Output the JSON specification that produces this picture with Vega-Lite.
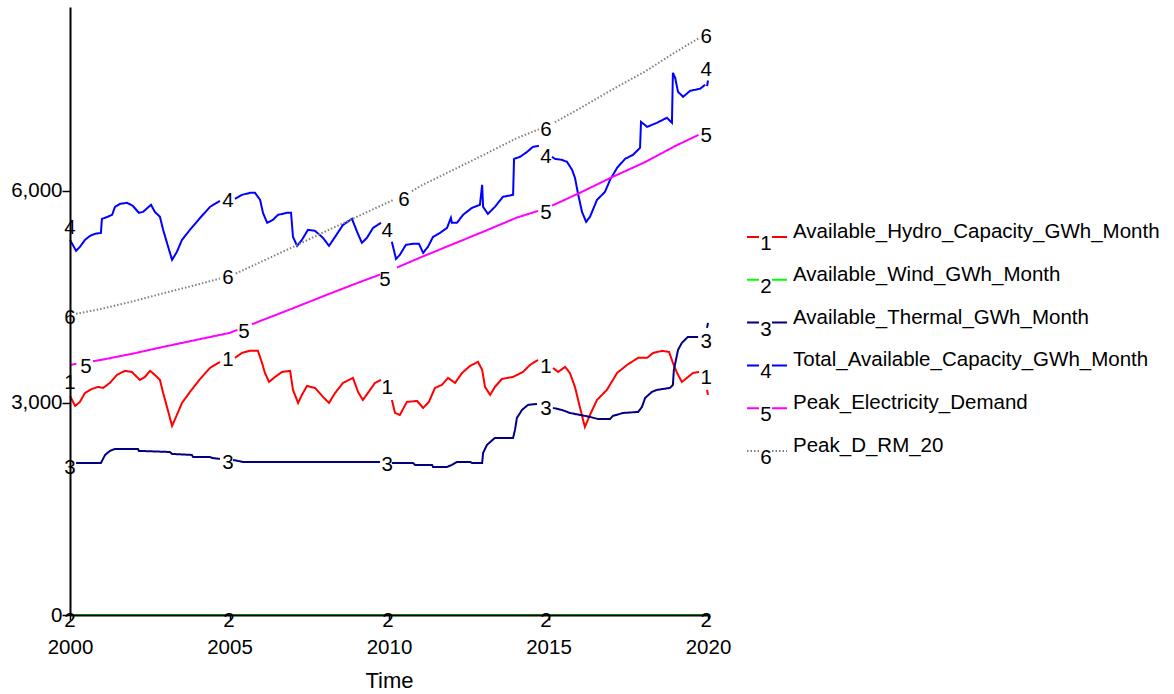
{
  "$schema": "https://vega.github.io/schema/vega-lite/v6.json",
  "autosize": {"type": "none"},
  "padding": {"left": 70, "top": 7, "right": 466, "bottom": 79},
  "background": "white",
  "width": 638,
  "height": 608,
  "config": {
    "view": {"stroke": null},
    "font": "Liberation Sans",
    "text": {"font": "Liberation Sans"}
  },
  "datasets": {
    "lines": [
      {"series": "Available_Hydro_Capacity_GWh_Month", "seg": 1, "year": 2000.0, "value": 3100},
      {"series": "Available_Hydro_Capacity_GWh_Month", "seg": 1, "year": 2000.16, "value": 2957},
      {"series": "Available_Hydro_Capacity_GWh_Month", "seg": 1, "year": 2000.31, "value": 3014},
      {"series": "Available_Hydro_Capacity_GWh_Month", "seg": 1, "year": 2000.47, "value": 3141},
      {"series": "Available_Hydro_Capacity_GWh_Month", "seg": 1, "year": 2000.69, "value": 3198},
      {"series": "Available_Hydro_Capacity_GWh_Month", "seg": 1, "year": 2000.88, "value": 3226},
      {"series": "Available_Hydro_Capacity_GWh_Month", "seg": 1, "year": 2001.04, "value": 3212},
      {"series": "Available_Hydro_Capacity_GWh_Month", "seg": 1, "year": 2001.25, "value": 3283},
      {"series": "Available_Hydro_Capacity_GWh_Month", "seg": 1, "year": 2001.47, "value": 3396},
      {"series": "Available_Hydro_Capacity_GWh_Month", "seg": 1, "year": 2001.72, "value": 3453},
      {"series": "Available_Hydro_Capacity_GWh_Month", "seg": 1, "year": 2001.94, "value": 3438},
      {"series": "Available_Hydro_Capacity_GWh_Month", "seg": 1, "year": 2002.19, "value": 3325},
      {"series": "Available_Hydro_Capacity_GWh_Month", "seg": 1, "year": 2002.35, "value": 3368},
      {"series": "Available_Hydro_Capacity_GWh_Month", "seg": 1, "year": 2002.51, "value": 3453},
      {"series": "Available_Hydro_Capacity_GWh_Month", "seg": 1, "year": 2002.66, "value": 3396},
      {"series": "Available_Hydro_Capacity_GWh_Month", "seg": 1, "year": 2002.82, "value": 3325},
      {"series": "Available_Hydro_Capacity_GWh_Month", "seg": 1, "year": 2002.92, "value": 3141},
      {"series": "Available_Hydro_Capacity_GWh_Month", "seg": 1, "year": 2003.04, "value": 2943},
      {"series": "Available_Hydro_Capacity_GWh_Month", "seg": 1, "year": 2003.2, "value": 2674},
      {"series": "Available_Hydro_Capacity_GWh_Month", "seg": 1, "year": 2003.35, "value": 2830},
      {"series": "Available_Hydro_Capacity_GWh_Month", "seg": 1, "year": 2003.51, "value": 3000},
      {"series": "Available_Hydro_Capacity_GWh_Month", "seg": 1, "year": 2003.76, "value": 3155},
      {"series": "Available_Hydro_Capacity_GWh_Month", "seg": 1, "year": 2004.08, "value": 3339},
      {"series": "Available_Hydro_Capacity_GWh_Month", "seg": 1, "year": 2004.39, "value": 3495},
      {"series": "Available_Hydro_Capacity_GWh_Month", "seg": 1, "year": 2004.7, "value": 3580},
      {"series": "Available_Hydro_Capacity_GWh_Month", "seg": 2, "year": 2005.17, "value": 3637},
      {"series": "Available_Hydro_Capacity_GWh_Month", "seg": 2, "year": 2005.39, "value": 3707},
      {"series": "Available_Hydro_Capacity_GWh_Month", "seg": 2, "year": 2005.64, "value": 3736},
      {"series": "Available_Hydro_Capacity_GWh_Month", "seg": 2, "year": 2005.89, "value": 3736},
      {"series": "Available_Hydro_Capacity_GWh_Month", "seg": 2, "year": 2006.02, "value": 3566},
      {"series": "Available_Hydro_Capacity_GWh_Month", "seg": 2, "year": 2006.11, "value": 3424},
      {"series": "Available_Hydro_Capacity_GWh_Month", "seg": 2, "year": 2006.24, "value": 3297},
      {"series": "Available_Hydro_Capacity_GWh_Month", "seg": 2, "year": 2006.43, "value": 3368},
      {"series": "Available_Hydro_Capacity_GWh_Month", "seg": 2, "year": 2006.65, "value": 3438},
      {"series": "Available_Hydro_Capacity_GWh_Month", "seg": 2, "year": 2006.9, "value": 3453},
      {"series": "Available_Hydro_Capacity_GWh_Month", "seg": 2, "year": 2006.99, "value": 3184},
      {"series": "Available_Hydro_Capacity_GWh_Month", "seg": 2, "year": 2007.15, "value": 3000},
      {"series": "Available_Hydro_Capacity_GWh_Month", "seg": 2, "year": 2007.27, "value": 3113},
      {"series": "Available_Hydro_Capacity_GWh_Month", "seg": 2, "year": 2007.43, "value": 3240},
      {"series": "Available_Hydro_Capacity_GWh_Month", "seg": 2, "year": 2007.68, "value": 3212},
      {"series": "Available_Hydro_Capacity_GWh_Month", "seg": 2, "year": 2007.93, "value": 3085},
      {"series": "Available_Hydro_Capacity_GWh_Month", "seg": 2, "year": 2008.12, "value": 3000},
      {"series": "Available_Hydro_Capacity_GWh_Month", "seg": 2, "year": 2008.31, "value": 3141},
      {"series": "Available_Hydro_Capacity_GWh_Month", "seg": 2, "year": 2008.56, "value": 3283},
      {"series": "Available_Hydro_Capacity_GWh_Month", "seg": 2, "year": 2008.87, "value": 3354},
      {"series": "Available_Hydro_Capacity_GWh_Month", "seg": 2, "year": 2009.03, "value": 3155},
      {"series": "Available_Hydro_Capacity_GWh_Month", "seg": 2, "year": 2009.18, "value": 3042},
      {"series": "Available_Hydro_Capacity_GWh_Month", "seg": 2, "year": 2009.34, "value": 3141},
      {"series": "Available_Hydro_Capacity_GWh_Month", "seg": 2, "year": 2009.56, "value": 3283},
      {"series": "Available_Hydro_Capacity_GWh_Month", "seg": 2, "year": 2009.75, "value": 3325},
      {"series": "Available_Hydro_Capacity_GWh_Month", "seg": 3, "year": 2010.09, "value": 3042},
      {"series": "Available_Hydro_Capacity_GWh_Month", "seg": 3, "year": 2010.19, "value": 2858},
      {"series": "Available_Hydro_Capacity_GWh_Month", "seg": 3, "year": 2010.34, "value": 2830},
      {"series": "Available_Hydro_Capacity_GWh_Month", "seg": 3, "year": 2010.56, "value": 3014},
      {"series": "Available_Hydro_Capacity_GWh_Month", "seg": 3, "year": 2010.88, "value": 3028},
      {"series": "Available_Hydro_Capacity_GWh_Month", "seg": 3, "year": 2011.07, "value": 2929},
      {"series": "Available_Hydro_Capacity_GWh_Month", "seg": 3, "year": 2011.25, "value": 3014},
      {"series": "Available_Hydro_Capacity_GWh_Month", "seg": 3, "year": 2011.44, "value": 3212},
      {"series": "Available_Hydro_Capacity_GWh_Month", "seg": 3, "year": 2011.66, "value": 3255},
      {"series": "Available_Hydro_Capacity_GWh_Month", "seg": 3, "year": 2011.85, "value": 3354},
      {"series": "Available_Hydro_Capacity_GWh_Month", "seg": 3, "year": 2012.07, "value": 3283},
      {"series": "Available_Hydro_Capacity_GWh_Month", "seg": 3, "year": 2012.29, "value": 3424},
      {"series": "Available_Hydro_Capacity_GWh_Month", "seg": 3, "year": 2012.54, "value": 3523},
      {"series": "Available_Hydro_Capacity_GWh_Month", "seg": 3, "year": 2012.79, "value": 3580},
      {"series": "Available_Hydro_Capacity_GWh_Month", "seg": 3, "year": 2012.92, "value": 3467},
      {"series": "Available_Hydro_Capacity_GWh_Month", "seg": 3, "year": 2013.01, "value": 3226},
      {"series": "Available_Hydro_Capacity_GWh_Month", "seg": 3, "year": 2013.17, "value": 3113},
      {"series": "Available_Hydro_Capacity_GWh_Month", "seg": 3, "year": 2013.32, "value": 3226},
      {"series": "Available_Hydro_Capacity_GWh_Month", "seg": 3, "year": 2013.54, "value": 3339},
      {"series": "Available_Hydro_Capacity_GWh_Month", "seg": 3, "year": 2013.89, "value": 3368},
      {"series": "Available_Hydro_Capacity_GWh_Month", "seg": 3, "year": 2014.2, "value": 3438},
      {"series": "Available_Hydro_Capacity_GWh_Month", "seg": 3, "year": 2014.42, "value": 3537},
      {"series": "Available_Hydro_Capacity_GWh_Month", "seg": 3, "year": 2014.67, "value": 3608},
      {"series": "Available_Hydro_Capacity_GWh_Month", "seg": 4, "year": 2015.14, "value": 3495},
      {"series": "Available_Hydro_Capacity_GWh_Month", "seg": 4, "year": 2015.3, "value": 3438},
      {"series": "Available_Hydro_Capacity_GWh_Month", "seg": 4, "year": 2015.52, "value": 3509},
      {"series": "Available_Hydro_Capacity_GWh_Month", "seg": 4, "year": 2015.67, "value": 3424},
      {"series": "Available_Hydro_Capacity_GWh_Month", "seg": 4, "year": 2015.83, "value": 3226},
      {"series": "Available_Hydro_Capacity_GWh_Month", "seg": 4, "year": 2015.99, "value": 2929},
      {"series": "Available_Hydro_Capacity_GWh_Month", "seg": 4, "year": 2016.14, "value": 2660},
      {"series": "Available_Hydro_Capacity_GWh_Month", "seg": 4, "year": 2016.3, "value": 2830},
      {"series": "Available_Hydro_Capacity_GWh_Month", "seg": 4, "year": 2016.52, "value": 3042},
      {"series": "Available_Hydro_Capacity_GWh_Month", "seg": 4, "year": 2016.83, "value": 3184},
      {"series": "Available_Hydro_Capacity_GWh_Month", "seg": 4, "year": 2017.15, "value": 3424},
      {"series": "Available_Hydro_Capacity_GWh_Month", "seg": 4, "year": 2017.46, "value": 3537},
      {"series": "Available_Hydro_Capacity_GWh_Month", "seg": 4, "year": 2017.81, "value": 3637},
      {"series": "Available_Hydro_Capacity_GWh_Month", "seg": 4, "year": 2018.09, "value": 3637},
      {"series": "Available_Hydro_Capacity_GWh_Month", "seg": 4, "year": 2018.28, "value": 3707},
      {"series": "Available_Hydro_Capacity_GWh_Month", "seg": 4, "year": 2018.56, "value": 3736},
      {"series": "Available_Hydro_Capacity_GWh_Month", "seg": 4, "year": 2018.78, "value": 3721},
      {"series": "Available_Hydro_Capacity_GWh_Month", "seg": 4, "year": 2018.9, "value": 3566},
      {"series": "Available_Hydro_Capacity_GWh_Month", "seg": 4, "year": 2019.03, "value": 3424},
      {"series": "Available_Hydro_Capacity_GWh_Month", "seg": 4, "year": 2019.18, "value": 3297},
      {"series": "Available_Hydro_Capacity_GWh_Month", "seg": 4, "year": 2019.34, "value": 3354},
      {"series": "Available_Hydro_Capacity_GWh_Month", "seg": 4, "year": 2019.53, "value": 3424},
      {"series": "Available_Hydro_Capacity_GWh_Month", "seg": 4, "year": 2019.72, "value": 3438},
      {"series": "Available_Hydro_Capacity_GWh_Month", "seg": 5, "year": 2019.97, "value": 3184},
      {"series": "Available_Hydro_Capacity_GWh_Month", "seg": 5, "year": 2020.0, "value": 3113},

      {"series": "Available_Wind_GWh_Month", "seg": 1, "year": 2000.0, "value": 0},
      {"series": "Available_Wind_GWh_Month", "seg": 1, "year": 2020.0, "value": 0},

      {"series": "Available_Thermal_GWh_Month", "seg": 1, "year": 2000.19, "value": 2151},
      {"series": "Available_Thermal_GWh_Month", "seg": 1, "year": 2000.97, "value": 2151},
      {"series": "Available_Thermal_GWh_Month", "seg": 1, "year": 2001.1, "value": 2264},
      {"series": "Available_Thermal_GWh_Month", "seg": 1, "year": 2001.25, "value": 2321},
      {"series": "Available_Thermal_GWh_Month", "seg": 1, "year": 2001.41, "value": 2349},
      {"series": "Available_Thermal_GWh_Month", "seg": 1, "year": 2002.13, "value": 2349},
      {"series": "Available_Thermal_GWh_Month", "seg": 1, "year": 2002.16, "value": 2321},
      {"series": "Available_Thermal_GWh_Month", "seg": 1, "year": 2003.13, "value": 2306},
      {"series": "Available_Thermal_GWh_Month", "seg": 1, "year": 2003.2, "value": 2278},
      {"series": "Available_Thermal_GWh_Month", "seg": 1, "year": 2003.82, "value": 2264},
      {"series": "Available_Thermal_GWh_Month", "seg": 1, "year": 2003.86, "value": 2236},
      {"series": "Available_Thermal_GWh_Month", "seg": 1, "year": 2004.39, "value": 2236},
      {"series": "Available_Thermal_GWh_Month", "seg": 1, "year": 2004.45, "value": 2222},
      {"series": "Available_Thermal_GWh_Month", "seg": 1, "year": 2004.7, "value": 2207},
      {"series": "Available_Thermal_GWh_Month", "seg": 2, "year": 2005.11, "value": 2193},
      {"series": "Available_Thermal_GWh_Month", "seg": 2, "year": 2005.42, "value": 2165},
      {"series": "Available_Thermal_GWh_Month", "seg": 2, "year": 2009.72, "value": 2165},
      {"series": "Available_Thermal_GWh_Month", "seg": 3, "year": 2010.09, "value": 2151},
      {"series": "Available_Thermal_GWh_Month", "seg": 3, "year": 2010.75, "value": 2151},
      {"series": "Available_Thermal_GWh_Month", "seg": 3, "year": 2010.82, "value": 2123},
      {"series": "Available_Thermal_GWh_Month", "seg": 3, "year": 2011.35, "value": 2123},
      {"series": "Available_Thermal_GWh_Month", "seg": 3, "year": 2011.38, "value": 2094},
      {"series": "Available_Thermal_GWh_Month", "seg": 3, "year": 2011.82, "value": 2094},
      {"series": "Available_Thermal_GWh_Month", "seg": 3, "year": 2011.97, "value": 2123},
      {"series": "Available_Thermal_GWh_Month", "seg": 3, "year": 2012.13, "value": 2165},
      {"series": "Available_Thermal_GWh_Month", "seg": 3, "year": 2012.54, "value": 2165},
      {"series": "Available_Thermal_GWh_Month", "seg": 3, "year": 2012.6, "value": 2151},
      {"series": "Available_Thermal_GWh_Month", "seg": 3, "year": 2012.92, "value": 2151},
      {"series": "Available_Thermal_GWh_Month", "seg": 3, "year": 2012.95, "value": 2292},
      {"series": "Available_Thermal_GWh_Month", "seg": 3, "year": 2013.07, "value": 2406},
      {"series": "Available_Thermal_GWh_Month", "seg": 3, "year": 2013.32, "value": 2505},
      {"series": "Available_Thermal_GWh_Month", "seg": 3, "year": 2013.89, "value": 2505},
      {"series": "Available_Thermal_GWh_Month", "seg": 3, "year": 2013.95, "value": 2618},
      {"series": "Available_Thermal_GWh_Month", "seg": 3, "year": 2014.01, "value": 2788},
      {"series": "Available_Thermal_GWh_Month", "seg": 3, "year": 2014.17, "value": 2901},
      {"series": "Available_Thermal_GWh_Month", "seg": 3, "year": 2014.36, "value": 2972},
      {"series": "Available_Thermal_GWh_Month", "seg": 3, "year": 2014.64, "value": 2986},
      {"series": "Available_Thermal_GWh_Month", "seg": 4, "year": 2015.14, "value": 2929},
      {"series": "Available_Thermal_GWh_Month", "seg": 4, "year": 2015.42, "value": 2901},
      {"series": "Available_Thermal_GWh_Month", "seg": 4, "year": 2015.67, "value": 2858},
      {"series": "Available_Thermal_GWh_Month", "seg": 4, "year": 2015.99, "value": 2830},
      {"series": "Available_Thermal_GWh_Month", "seg": 4, "year": 2016.3, "value": 2802},
      {"series": "Available_Thermal_GWh_Month", "seg": 4, "year": 2016.55, "value": 2773},
      {"series": "Available_Thermal_GWh_Month", "seg": 4, "year": 2016.93, "value": 2773},
      {"series": "Available_Thermal_GWh_Month", "seg": 4, "year": 2017.02, "value": 2816},
      {"series": "Available_Thermal_GWh_Month", "seg": 4, "year": 2017.34, "value": 2858},
      {"series": "Available_Thermal_GWh_Month", "seg": 4, "year": 2017.81, "value": 2872},
      {"series": "Available_Thermal_GWh_Month", "seg": 4, "year": 2017.93, "value": 2943},
      {"series": "Available_Thermal_GWh_Month", "seg": 4, "year": 2018.03, "value": 3071},
      {"series": "Available_Thermal_GWh_Month", "seg": 4, "year": 2018.24, "value": 3155},
      {"series": "Available_Thermal_GWh_Month", "seg": 4, "year": 2018.4, "value": 3184},
      {"series": "Available_Thermal_GWh_Month", "seg": 4, "year": 2018.81, "value": 3212},
      {"series": "Available_Thermal_GWh_Month", "seg": 4, "year": 2018.9, "value": 3255},
      {"series": "Available_Thermal_GWh_Month", "seg": 4, "year": 2018.93, "value": 3467},
      {"series": "Available_Thermal_GWh_Month", "seg": 4, "year": 2019.06, "value": 3749},
      {"series": "Available_Thermal_GWh_Month", "seg": 4, "year": 2019.18, "value": 3849},
      {"series": "Available_Thermal_GWh_Month", "seg": 4, "year": 2019.37, "value": 3934},
      {"series": "Available_Thermal_GWh_Month", "seg": 4, "year": 2019.69, "value": 3934},
      {"series": "Available_Thermal_GWh_Month", "seg": 5, "year": 2019.97, "value": 4061},
      {"series": "Available_Thermal_GWh_Month", "seg": 5, "year": 2020.0, "value": 4132},

      {"series": "Total_Available_Capacity_GWh_Month", "seg": 1, "year": 2000.0, "value": 5306},
      {"series": "Total_Available_Capacity_GWh_Month", "seg": 1, "year": 2000.19, "value": 5151},
      {"series": "Total_Available_Capacity_GWh_Month", "seg": 1, "year": 2000.31, "value": 5207},
      {"series": "Total_Available_Capacity_GWh_Month", "seg": 1, "year": 2000.47, "value": 5306},
      {"series": "Total_Available_Capacity_GWh_Month", "seg": 1, "year": 2000.63, "value": 5363},
      {"series": "Total_Available_Capacity_GWh_Month", "seg": 1, "year": 2000.78, "value": 5391},
      {"series": "Total_Available_Capacity_GWh_Month", "seg": 1, "year": 2000.97, "value": 5405},
      {"series": "Total_Available_Capacity_GWh_Month", "seg": 1, "year": 2001.0, "value": 5603},
      {"series": "Total_Available_Capacity_GWh_Month", "seg": 1, "year": 2001.1, "value": 5618},
      {"series": "Total_Available_Capacity_GWh_Month", "seg": 1, "year": 2001.32, "value": 5660},
      {"series": "Total_Available_Capacity_GWh_Month", "seg": 1, "year": 2001.41, "value": 5773},
      {"series": "Total_Available_Capacity_GWh_Month", "seg": 1, "year": 2001.57, "value": 5816},
      {"series": "Total_Available_Capacity_GWh_Month", "seg": 1, "year": 2001.79, "value": 5830},
      {"series": "Total_Available_Capacity_GWh_Month", "seg": 1, "year": 2001.97, "value": 5787},
      {"series": "Total_Available_Capacity_GWh_Month", "seg": 1, "year": 2002.16, "value": 5688},
      {"series": "Total_Available_Capacity_GWh_Month", "seg": 1, "year": 2002.29, "value": 5702},
      {"series": "Total_Available_Capacity_GWh_Month", "seg": 1, "year": 2002.54, "value": 5802},
      {"series": "Total_Available_Capacity_GWh_Month", "seg": 1, "year": 2002.66, "value": 5702},
      {"series": "Total_Available_Capacity_GWh_Month", "seg": 1, "year": 2002.82, "value": 5632},
      {"series": "Total_Available_Capacity_GWh_Month", "seg": 1, "year": 2002.92, "value": 5448},
      {"series": "Total_Available_Capacity_GWh_Month", "seg": 1, "year": 2003.04, "value": 5264},
      {"series": "Total_Available_Capacity_GWh_Month", "seg": 1, "year": 2003.2, "value": 5023},
      {"series": "Total_Available_Capacity_GWh_Month", "seg": 1, "year": 2003.35, "value": 5136},
      {"series": "Total_Available_Capacity_GWh_Month", "seg": 1, "year": 2003.51, "value": 5306},
      {"series": "Total_Available_Capacity_GWh_Month", "seg": 1, "year": 2003.76, "value": 5448},
      {"series": "Total_Available_Capacity_GWh_Month", "seg": 1, "year": 2004.08, "value": 5618},
      {"series": "Total_Available_Capacity_GWh_Month", "seg": 1, "year": 2004.39, "value": 5773},
      {"series": "Total_Available_Capacity_GWh_Month", "seg": 1, "year": 2004.7, "value": 5858},
      {"series": "Total_Available_Capacity_GWh_Month", "seg": 2, "year": 2005.17, "value": 5886},
      {"series": "Total_Available_Capacity_GWh_Month", "seg": 2, "year": 2005.39, "value": 5943},
      {"series": "Total_Available_Capacity_GWh_Month", "seg": 2, "year": 2005.64, "value": 5971},
      {"series": "Total_Available_Capacity_GWh_Month", "seg": 2, "year": 2005.8, "value": 5971},
      {"series": "Total_Available_Capacity_GWh_Month", "seg": 2, "year": 2005.96, "value": 5872},
      {"series": "Total_Available_Capacity_GWh_Month", "seg": 2, "year": 2006.05, "value": 5688},
      {"series": "Total_Available_Capacity_GWh_Month", "seg": 2, "year": 2006.18, "value": 5547},
      {"series": "Total_Available_Capacity_GWh_Month", "seg": 2, "year": 2006.36, "value": 5589},
      {"series": "Total_Available_Capacity_GWh_Month", "seg": 2, "year": 2006.52, "value": 5660},
      {"series": "Total_Available_Capacity_GWh_Month", "seg": 2, "year": 2006.8, "value": 5688},
      {"series": "Total_Available_Capacity_GWh_Month", "seg": 2, "year": 2006.93, "value": 5688},
      {"series": "Total_Available_Capacity_GWh_Month", "seg": 2, "year": 2006.99, "value": 5349},
      {"series": "Total_Available_Capacity_GWh_Month", "seg": 2, "year": 2007.12, "value": 5221},
      {"series": "Total_Available_Capacity_GWh_Month", "seg": 2, "year": 2007.27, "value": 5306},
      {"series": "Total_Available_Capacity_GWh_Month", "seg": 2, "year": 2007.46, "value": 5448},
      {"series": "Total_Available_Capacity_GWh_Month", "seg": 2, "year": 2007.68, "value": 5434},
      {"series": "Total_Available_Capacity_GWh_Month", "seg": 2, "year": 2007.93, "value": 5335},
      {"series": "Total_Available_Capacity_GWh_Month", "seg": 2, "year": 2008.12, "value": 5221},
      {"series": "Total_Available_Capacity_GWh_Month", "seg": 2, "year": 2008.31, "value": 5349},
      {"series": "Total_Available_Capacity_GWh_Month", "seg": 2, "year": 2008.56, "value": 5519},
      {"series": "Total_Available_Capacity_GWh_Month", "seg": 2, "year": 2008.84, "value": 5603},
      {"series": "Total_Available_Capacity_GWh_Month", "seg": 2, "year": 2009.0, "value": 5419},
      {"series": "Total_Available_Capacity_GWh_Month", "seg": 2, "year": 2009.15, "value": 5264},
      {"series": "Total_Available_Capacity_GWh_Month", "seg": 2, "year": 2009.31, "value": 5335},
      {"series": "Total_Available_Capacity_GWh_Month", "seg": 2, "year": 2009.5, "value": 5476},
      {"series": "Total_Available_Capacity_GWh_Month", "seg": 2, "year": 2009.75, "value": 5547},
      {"series": "Total_Available_Capacity_GWh_Month", "seg": 3, "year": 2010.09, "value": 5278},
      {"series": "Total_Available_Capacity_GWh_Month", "seg": 3, "year": 2010.22, "value": 5037},
      {"series": "Total_Available_Capacity_GWh_Month", "seg": 3, "year": 2010.34, "value": 5094},
      {"series": "Total_Available_Capacity_GWh_Month", "seg": 3, "year": 2010.53, "value": 5236},
      {"series": "Total_Available_Capacity_GWh_Month", "seg": 3, "year": 2010.75, "value": 5250},
      {"series": "Total_Available_Capacity_GWh_Month", "seg": 3, "year": 2010.94, "value": 5250},
      {"series": "Total_Available_Capacity_GWh_Month", "seg": 3, "year": 2011.07, "value": 5122},
      {"series": "Total_Available_Capacity_GWh_Month", "seg": 3, "year": 2011.22, "value": 5207},
      {"series": "Total_Available_Capacity_GWh_Month", "seg": 3, "year": 2011.38, "value": 5349},
      {"series": "Total_Available_Capacity_GWh_Month", "seg": 3, "year": 2011.6, "value": 5405},
      {"series": "Total_Available_Capacity_GWh_Month", "seg": 3, "year": 2011.82, "value": 5476},
      {"series": "Total_Available_Capacity_GWh_Month", "seg": 3, "year": 2011.94, "value": 5618},
      {"series": "Total_Available_Capacity_GWh_Month", "seg": 3, "year": 2011.97, "value": 5547},
      {"series": "Total_Available_Capacity_GWh_Month", "seg": 3, "year": 2012.13, "value": 5547},
      {"series": "Total_Available_Capacity_GWh_Month", "seg": 3, "year": 2012.32, "value": 5660},
      {"series": "Total_Available_Capacity_GWh_Month", "seg": 3, "year": 2012.6, "value": 5759},
      {"series": "Total_Available_Capacity_GWh_Month", "seg": 3, "year": 2012.85, "value": 5802},
      {"series": "Total_Available_Capacity_GWh_Month", "seg": 3, "year": 2012.92, "value": 6085},
      {"series": "Total_Available_Capacity_GWh_Month", "seg": 3, "year": 2012.95, "value": 5773},
      {"series": "Total_Available_Capacity_GWh_Month", "seg": 3, "year": 2013.1, "value": 5674},
      {"series": "Total_Available_Capacity_GWh_Month", "seg": 3, "year": 2013.32, "value": 5773},
      {"series": "Total_Available_Capacity_GWh_Month", "seg": 3, "year": 2013.57, "value": 5915},
      {"series": "Total_Available_Capacity_GWh_Month", "seg": 3, "year": 2013.89, "value": 5943},
      {"series": "Total_Available_Capacity_GWh_Month", "seg": 3, "year": 2013.92, "value": 6452},
      {"series": "Total_Available_Capacity_GWh_Month", "seg": 3, "year": 2014.11, "value": 6481},
      {"series": "Total_Available_Capacity_GWh_Month", "seg": 3, "year": 2014.33, "value": 6551},
      {"series": "Total_Available_Capacity_GWh_Month", "seg": 3, "year": 2014.51, "value": 6622},
      {"series": "Total_Available_Capacity_GWh_Month", "seg": 3, "year": 2014.7, "value": 6636},
      {"series": "Total_Available_Capacity_GWh_Month", "seg": 4, "year": 2015.11, "value": 6481},
      {"series": "Total_Available_Capacity_GWh_Month", "seg": 4, "year": 2015.2, "value": 6452},
      {"series": "Total_Available_Capacity_GWh_Month", "seg": 4, "year": 2015.42, "value": 6438},
      {"series": "Total_Available_Capacity_GWh_Month", "seg": 4, "year": 2015.58, "value": 6410},
      {"series": "Total_Available_Capacity_GWh_Month", "seg": 4, "year": 2015.74, "value": 6296},
      {"series": "Total_Available_Capacity_GWh_Month", "seg": 4, "year": 2015.83, "value": 6184},
      {"series": "Total_Available_Capacity_GWh_Month", "seg": 4, "year": 2015.92, "value": 5971},
      {"series": "Total_Available_Capacity_GWh_Month", "seg": 4, "year": 2016.05, "value": 5702},
      {"series": "Total_Available_Capacity_GWh_Month", "seg": 4, "year": 2016.18, "value": 5561},
      {"series": "Total_Available_Capacity_GWh_Month", "seg": 4, "year": 2016.3, "value": 5632},
      {"series": "Total_Available_Capacity_GWh_Month", "seg": 4, "year": 2016.52, "value": 5872},
      {"series": "Total_Available_Capacity_GWh_Month", "seg": 4, "year": 2016.77, "value": 5985},
      {"series": "Total_Available_Capacity_GWh_Month", "seg": 4, "year": 2016.93, "value": 6155},
      {"series": "Total_Available_Capacity_GWh_Month", "seg": 4, "year": 2017.15, "value": 6325},
      {"series": "Total_Available_Capacity_GWh_Month", "seg": 4, "year": 2017.4, "value": 6452},
      {"series": "Total_Available_Capacity_GWh_Month", "seg": 4, "year": 2017.65, "value": 6509},
      {"series": "Total_Available_Capacity_GWh_Month", "seg": 4, "year": 2017.87, "value": 6608},
      {"series": "Total_Available_Capacity_GWh_Month", "seg": 4, "year": 2017.9, "value": 6976},
      {"series": "Total_Available_Capacity_GWh_Month", "seg": 4, "year": 2018.09, "value": 6905},
      {"series": "Total_Available_Capacity_GWh_Month", "seg": 4, "year": 2018.4, "value": 6962},
      {"series": "Total_Available_Capacity_GWh_Month", "seg": 4, "year": 2018.71, "value": 7033},
      {"series": "Total_Available_Capacity_GWh_Month", "seg": 4, "year": 2018.87, "value": 6962},
      {"series": "Total_Available_Capacity_GWh_Month", "seg": 4, "year": 2018.9, "value": 7669},
      {"series": "Total_Available_Capacity_GWh_Month", "seg": 4, "year": 2018.97, "value": 7599},
      {"series": "Total_Available_Capacity_GWh_Month", "seg": 4, "year": 2019.06, "value": 7400},
      {"series": "Total_Available_Capacity_GWh_Month", "seg": 4, "year": 2019.22, "value": 7330},
      {"series": "Total_Available_Capacity_GWh_Month", "seg": 4, "year": 2019.44, "value": 7415},
      {"series": "Total_Available_Capacity_GWh_Month", "seg": 4, "year": 2019.75, "value": 7443},
      {"series": "Total_Available_Capacity_GWh_Month", "seg": 4, "year": 2019.91, "value": 7500},
      {"series": "Total_Available_Capacity_GWh_Month", "seg": 5, "year": 2019.97, "value": 7480},
      {"series": "Total_Available_Capacity_GWh_Month", "seg": 5, "year": 2020.0, "value": 7560},

      {"series": "Peak_Electricity_Demand", "seg": 1, "year": 2000.0, "value": 3538},
      {"series": "Peak_Electricity_Demand", "seg": 1, "year": 2000.2, "value": 3552},
      {"series": "Peak_Electricity_Demand", "seg": 2, "year": 2000.72, "value": 3590},
      {"series": "Peak_Electricity_Demand", "seg": 2, "year": 2001.0, "value": 3610},
      {"series": "Peak_Electricity_Demand", "seg": 2, "year": 2002.0, "value": 3700},
      {"series": "Peak_Electricity_Demand", "seg": 2, "year": 2003.0, "value": 3800},
      {"series": "Peak_Electricity_Demand", "seg": 2, "year": 2004.0, "value": 3895},
      {"series": "Peak_Electricity_Demand", "seg": 2, "year": 2005.0, "value": 3990},
      {"series": "Peak_Electricity_Demand", "seg": 2, "year": 2005.25, "value": 4033},
      {"series": "Peak_Electricity_Demand", "seg": 3, "year": 2005.7, "value": 4112},
      {"series": "Peak_Electricity_Demand", "seg": 3, "year": 2006.0, "value": 4165},
      {"series": "Peak_Electricity_Demand", "seg": 3, "year": 2007.0, "value": 4340},
      {"series": "Peak_Electricity_Demand", "seg": 3, "year": 2008.0, "value": 4520},
      {"series": "Peak_Electricity_Demand", "seg": 3, "year": 2009.0, "value": 4695},
      {"series": "Peak_Electricity_Demand", "seg": 3, "year": 2009.72, "value": 4815},
      {"series": "Peak_Electricity_Demand", "seg": 4, "year": 2010.25, "value": 4915},
      {"series": "Peak_Electricity_Demand", "seg": 4, "year": 2011.0, "value": 5060},
      {"series": "Peak_Electricity_Demand", "seg": 4, "year": 2012.0, "value": 5245},
      {"series": "Peak_Electricity_Demand", "seg": 4, "year": 2013.0, "value": 5430},
      {"series": "Peak_Electricity_Demand", "seg": 4, "year": 2014.0, "value": 5620},
      {"series": "Peak_Electricity_Demand", "seg": 4, "year": 2014.67, "value": 5715},
      {"series": "Peak_Electricity_Demand", "seg": 5, "year": 2015.11, "value": 5790},
      {"series": "Peak_Electricity_Demand", "seg": 5, "year": 2016.0, "value": 5975},
      {"series": "Peak_Electricity_Demand", "seg": 5, "year": 2017.0, "value": 6195},
      {"series": "Peak_Electricity_Demand", "seg": 5, "year": 2018.0, "value": 6400},
      {"series": "Peak_Electricity_Demand", "seg": 5, "year": 2019.0, "value": 6640},
      {"series": "Peak_Electricity_Demand", "seg": 5, "year": 2019.7, "value": 6790},

      {"series": "Peak_D_RM_20", "seg": 1, "year": 2000.19, "value": 4260},
      {"series": "Peak_D_RM_20", "seg": 1, "year": 2001.0, "value": 4332},
      {"series": "Peak_D_RM_20", "seg": 1, "year": 2002.0, "value": 4440},
      {"series": "Peak_D_RM_20", "seg": 1, "year": 2003.0, "value": 4560},
      {"series": "Peak_D_RM_20", "seg": 1, "year": 2004.0, "value": 4674},
      {"series": "Peak_D_RM_20", "seg": 1, "year": 2004.7, "value": 4760},
      {"series": "Peak_D_RM_20", "seg": 2, "year": 2005.2, "value": 4830},
      {"series": "Peak_D_RM_20", "seg": 2, "year": 2006.0, "value": 4998},
      {"series": "Peak_D_RM_20", "seg": 2, "year": 2007.0, "value": 5208},
      {"series": "Peak_D_RM_20", "seg": 2, "year": 2008.0, "value": 5424},
      {"series": "Peak_D_RM_20", "seg": 2, "year": 2009.0, "value": 5634},
      {"series": "Peak_D_RM_20", "seg": 2, "year": 2010.13, "value": 5870},
      {"series": "Peak_D_RM_20", "seg": 3, "year": 2010.72, "value": 5995},
      {"series": "Peak_D_RM_20", "seg": 3, "year": 2011.0, "value": 6072},
      {"series": "Peak_D_RM_20", "seg": 3, "year": 2012.0, "value": 6294},
      {"series": "Peak_D_RM_20", "seg": 3, "year": 2013.0, "value": 6516},
      {"series": "Peak_D_RM_20", "seg": 3, "year": 2014.0, "value": 6744},
      {"series": "Peak_D_RM_20", "seg": 3, "year": 2014.7, "value": 6870},
      {"series": "Peak_D_RM_20", "seg": 4, "year": 2015.2, "value": 6970},
      {"series": "Peak_D_RM_20", "seg": 4, "year": 2016.0, "value": 7170},
      {"series": "Peak_D_RM_20", "seg": 4, "year": 2017.0, "value": 7434},
      {"series": "Peak_D_RM_20", "seg": 4, "year": 2018.0, "value": 7680},
      {"series": "Peak_D_RM_20", "seg": 4, "year": 2019.0, "value": 7968},
      {"series": "Peak_D_RM_20", "seg": 4, "year": 2019.72, "value": 8160}
    ],
    "labels": [
      {"num": "1", "year": 2000.0, "value": 3283},
      {"num": "1", "year": 2004.95, "value": 3608},
      {"num": "1", "year": 2009.94, "value": 3212},
      {"num": "1", "year": 2014.92, "value": 3509},
      {"num": "1", "year": 2019.94, "value": 3354},
      {"num": "2", "year": 2000.0, "value": -85},
      {"num": "2", "year": 2004.98, "value": -85},
      {"num": "2", "year": 2009.97, "value": -85},
      {"num": "2", "year": 2014.92, "value": -85},
      {"num": "2", "year": 2019.94, "value": -85},
      {"num": "3", "year": 2000.0, "value": 2080},
      {"num": "3", "year": 2004.95, "value": 2151},
      {"num": "3", "year": 2009.94, "value": 2123},
      {"num": "3", "year": 2014.92, "value": 2915},
      {"num": "3", "year": 2019.94, "value": 3863},
      {"num": "4", "year": 2000.0, "value": 5476},
      {"num": "4", "year": 2004.95, "value": 5858},
      {"num": "4", "year": 2009.94, "value": 5434},
      {"num": "4", "year": 2014.92, "value": 6481},
      {"num": "4", "year": 2019.94, "value": 7712},
      {"num": "5", "year": 2000.5, "value": 3509},
      {"num": "5", "year": 2005.45, "value": 4004},
      {"num": "5", "year": 2009.87, "value": 4740},
      {"num": "5", "year": 2014.92, "value": 5688},
      {"num": "5", "year": 2019.94, "value": 6778},
      {"num": "6", "year": 2000.0, "value": 4203},
      {"num": "6", "year": 2004.95, "value": 4769},
      {"num": "6", "year": 2010.47, "value": 5872},
      {"num": "6", "year": 2014.92, "value": 6863},
      {"num": "6", "year": 2019.94, "value": 8179}
    ],
    "keyRows": [
      {"num": 1, "series": "Available_Hydro_Capacity_GWh_Month"},
      {"num": 2, "series": "Available_Wind_GWh_Month"},
      {"num": 3, "series": "Available_Thermal_GWh_Month"},
      {"num": 4, "series": "Total_Available_Capacity_GWh_Month"},
      {"num": 5, "series": "Peak_Electricity_Demand"},
      {"num": 6, "series": "Peak_D_RM_20"}
    ]
  },
  "layer": [
    {
      "layer": [
        {
          "data": {"name": "lines"},
          "mark": {"type": "line", "interpolate": "linear", "strokeCap": "butt"},
          "encoding": {
            "x": {
              "field": "year", "type": "quantitative",
              "scale": {"domain": [2000, 2020], "nice": false, "zero": false},
              "axis": {
                "values": [2000, 2005, 2010, 2015, 2020], "format": "d", "title": "Time",
                "labelFontSize": 20.5, "titleFontSize": 22, "titleFontWeight": "normal",
                "labelColor": "black", "titleColor": "black", "domainColor": "black", "domainWidth": 2,
                "tickSize": 5, "tickColor": "black", "tickWidth": 1.5, "labelPadding": 17, "titlePadding": 13,
                "grid": false, "zindex": 1, "labelFlush": false
              }
            },
            "y": {
              "field": "value", "type": "quantitative",
              "scale": {"domain": [0, 8600], "nice": false, "zero": false},
              "axis": {
                "values": [0, 3000, 6000], "format": ",.0f", "title": null,
                "labelFontSize": 20.5, "labelColor": "black", "domainColor": "black", "domainWidth": 2,
                "tickSize": 8, "tickColor": "black", "tickWidth": 1.5, "labelPadding": 0,
                "grid": false, "zindex": 1, "labelFlush": false
              }
            },
            "color": {
              "field": "series", "type": "nominal",
              "scale": {
                "domain": ["Available_Hydro_Capacity_GWh_Month", "Available_Wind_GWh_Month", "Available_Thermal_GWh_Month", "Total_Available_Capacity_GWh_Month", "Peak_Electricity_Demand", "Peak_D_RM_20"],
                "range": ["#ff0000", "#00ff00", "#000080", "#0000ff", "#ff00ff", "#808080"]
              },
              "legend": null
            },
            "strokeDash": {
              "field": "series", "type": "nominal",
              "scale": {
                "domain": ["Available_Hydro_Capacity_GWh_Month", "Available_Wind_GWh_Month", "Available_Thermal_GWh_Month", "Total_Available_Capacity_GWh_Month", "Peak_Electricity_Demand", "Peak_D_RM_20"],
                "range": [[1, 0], [1, 0], [1, 0], [1, 0], [1, 0], [1.5, 2]]
              },
              "legend": null
            },
            "detail": {"field": "seg", "type": "nominal"}
          }
        },
        {
          "data": {"name": "labels"},
          "mark": {"type": "text", "fontSize": 20.5, "align": "center", "baseline": "middle", "color": "black"},
          "encoding": {
            "x": {"field": "year", "type": "quantitative"},
            "y": {"field": "value", "type": "quantitative"},
            "text": {"field": "num", "type": "nominal"}
          }
        }
      ]
    },
    {
      "data": {"name": "keyRows"},
      "encoding": {
        "y": {"field": "num", "type": "quantitative", "scale": {"domain": [-4.397, 9.808], "reverse": true, "nice": false, "zero": false}, "axis": null}
      },
      "layer": [
        {
          "mark": {"type": "rule", "strokeCap": "butt", "strokeWidth": 2, "yOffset": -1},
          "encoding": {
            "x": {"datum": 677, "type": "quantitative", "scale": {"domain": [0, 638], "nice": false, "zero": false}, "axis": null},
            "x2": {"datum": 689},
            "color": {"field": "series", "type": "nominal", "legend": null},
            "strokeDash": {"field": "series", "type": "nominal", "legend": null}
          }
        },
        {
          "mark": {"type": "rule", "strokeCap": "butt", "strokeWidth": 2, "yOffset": -1},
          "encoding": {
            "x": {"datum": 702, "type": "quantitative"},
            "x2": {"datum": 717},
            "color": {"field": "series", "type": "nominal", "legend": null},
            "strokeDash": {"field": "series", "type": "nominal", "legend": null}
          }
        },
        {
          "mark": {"type": "text", "fontSize": 20.5, "align": "center", "baseline": "alphabetic", "dy": 12, "color": "black"},
          "encoding": {
            "x": {"datum": 696, "type": "quantitative"},
            "text": {"field": "num", "type": "nominal"}
          }
        },
        {
          "mark": {"type": "text", "fontSize": 20.5, "align": "left", "baseline": "alphabetic", "color": "black"},
          "encoding": {
            "x": {"datum": 723, "type": "quantitative"},
            "text": {"field": "series", "type": "nominal"}
          }
        }
      ]
    }
  ],
  "resolve": {"scale": {"x": "independent", "y": "independent"}}
}
